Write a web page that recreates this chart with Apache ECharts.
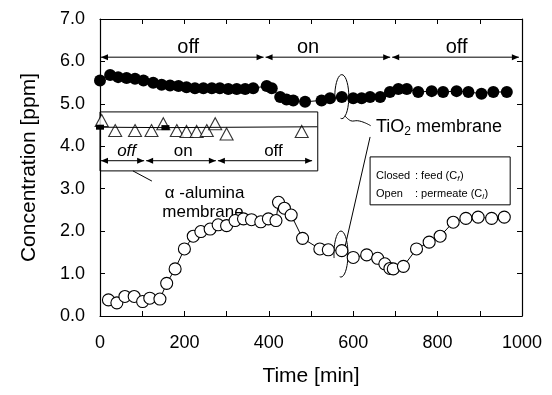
<!DOCTYPE html>
<html>
<head>
<meta charset="utf-8">
<script src="https://cdn.jsdelivr.net/npm/echarts@6/dist/echarts.min.js"></script>
<style>
  html, body { margin: 0; padding: 0; background: #fff; }
  #chart { width: 552px; height: 395px; }
</style>
</head>
<body>
<div id="chart"></div>
<script>
// TiO2 membrane, feed side (closed circles)
const timeTiO2Feed = [0, 24, 43, 63, 83, 103, 126, 146, 166, 186, 205, 225, 245, 265, 284, 304, 324, 344, 363, 395, 407, 427, 442, 458, 486, 525, 545, 573, 600, 620, 640, 664, 687, 707, 727, 754, 786, 813, 845, 873, 904, 932, 964]
const concTiO2Feed = [5.55, 5.68, 5.63, 5.61, 5.59, 5.55, 5.50, 5.45, 5.43, 5.42, 5.39, 5.37, 5.37, 5.37, 5.37, 5.35, 5.35, 5.35, 5.37, 5.42, 5.37, 5.16, 5.10, 5.08, 5.05, 5.08, 5.13, 5.16, 5.13, 5.13, 5.16, 5.16, 5.28, 5.35, 5.35, 5.28, 5.30, 5.28, 5.30, 5.28, 5.24, 5.28, 5.28]

// TiO2 membrane, permeate side (open circles)
const timeTiO2Perm = [20, 40, 59, 81, 101, 118, 142, 158, 178, 200, 221, 239, 261, 280, 300, 320, 340, 359, 381, 399, 417, 423, 437, 453, 480, 521, 541, 573, 600, 632, 658, 675, 687, 695, 719, 750, 780, 806, 837, 867, 896, 928, 958]
const concTiO2Perm = [0.38, 0.31, 0.46, 0.46, 0.34, 0.42, 0.40, 0.77, 1.11, 1.58, 1.88, 1.99, 2.05, 2.15, 2.13, 2.25, 2.29, 2.27, 2.22, 2.29, 2.25, 2.68, 2.54, 2.38, 1.83, 1.58, 1.56, 1.54, 1.38, 1.44, 1.36, 1.23, 1.12, 1.11, 1.17, 1.58, 1.74, 1.88, 2.21, 2.30, 2.33, 2.30, 2.33]

// alpha-alumina membrane (inset), feed (closed) and permeate (open triangles)
const timeAluFeed = [0, 155, 515]
const concAluFeed = [4.45, 4.44, 4.46]
const timeAluPerm = [4, 36, 83, 122, 150, 182, 205, 229, 253, 273, 300, 478]
const concAluPerm = [4.61, 4.37, 4.37, 4.37, 4.53, 4.37, 4.35, 4.35, 4.37, 4.53, 4.29, 4.35]

// axis ticks
const xTicks = [0, 200, 400, 600, 800, 1000]
const yTicks = [0, 1, 2, 3, 4, 5, 6, 7]

const FONT = '"Liberation Sans", Arial, Helvetica, sans-serif'
const zip = (xs, ys) => xs.map((x, i) => [x, ys[i]])

const chart = echarts.init(document.getElementById('chart'))

const frameAxis = {
  axisLine: { show: true, onZero: false, lineStyle: { color: '#000', width: 1.2 } },
  axisTick: { show: true, inside: true, length: 5, lineStyle: { color: '#000' } },
  splitLine: { show: false },
}

// the inset feed line runs on to the box edge without a marker
const aluFeedData = zip(timeAluFeed, concAluFeed).map((d, i) =>
  i === timeAluFeed.length - 1 ? { value: d, symbol: 'none' } : d
)

chart.setOption({
  animation: false,
  backgroundColor: '#fff',
  grid: { left: 100, right: 30, top: 19, bottom: 79 },
  xAxis: [
    {
      type: 'value', min: xTicks[0], max: xTicks[xTicks.length - 1], interval: 200,
      ...frameAxis,
      minorTick: { show: true, splitNumber: 2, length: 5, lineStyle: { color: '#000' } },
      axisLabel: { color: '#000', fontSize: 18, fontFamily: FONT, margin: 18, formatter: (v) => String(v) },
      name: 'Time [min]', nameLocation: 'middle', nameGap: 50,
      nameTextStyle: { color: '#000', fontSize: 21, fontFamily: FONT },
    },
    {
      type: 'value', position: 'top', min: 0, max: 1000, interval: 100,
      ...frameAxis, axisLabel: { show: false },
    },
  ],
  yAxis: [
    {
      type: 'value', min: yTicks[0], max: yTicks[yTicks.length - 1], interval: 1,
      ...frameAxis,
      axisLabel: { color: '#000', fontSize: 18, fontFamily: FONT, margin: 15, formatter: (v) => v.toFixed(1) },
      name: 'Concentration [ppm]', nameLocation: 'middle', nameGap: 60, nameRotate: 90,
      nameTextStyle: { color: '#000', fontSize: 21, fontFamily: FONT },
    },
    {
      type: 'value', position: 'right', min: 0, max: 7, interval: 1,
      ...frameAxis, axisLabel: { show: false },
    },
  ],
  series: [
    {
      name: 'alumina feed', type: 'line', data: aluFeedData,
      symbol: 'rect', symbolSize: [8, 5], showAllSymbol: true,
      itemStyle: { color: '#000' }, lineStyle: { color: '#000', width: 1 },
    },
    {
      name: 'alumina permeate', type: 'scatter', data: zip(timeAluPerm, concAluPerm),
      symbol: 'triangle', symbolSize: [13, 12],
      itemStyle: { color: '#fff', borderColor: '#000', borderWidth: 1.1 },
    },
    {
      name: 'TiO2 feed', type: 'line', data: zip(timeTiO2Feed, concTiO2Feed),
      symbol: 'circle', symbolSize: 12, showAllSymbol: true,
      itemStyle: { color: '#000' }, lineStyle: { color: '#000', width: 1 },
    },
    {
      name: 'TiO2 permeate', type: 'line', data: zip(timeTiO2Perm, concTiO2Perm),
      symbol: 'circle', symbolSize: 12, showAllSymbol: true,
      itemStyle: { color: '#fff', borderColor: '#000', borderWidth: 1.1 },
      lineStyle: { color: '#000', width: 1 },
    },
  ],
})

// ---- annotations, placed in data coordinates ----
const px = (t, v) => chart.convertToPixel({ gridIndex: 0 }, [t, v])
const ctx = document.createElement('canvas').getContext('2d')
const textWidth = (s, size, style) => {
  ctx.font = `${style || 'normal'} ${size}px ${FONT}`
  return ctx.measureText(s).width
}
const els = []
const stroke = { stroke: '#000', lineWidth: 1, fill: null }

function text(s, x, y, size, align, extra) {
  els.push({
    type: 'text', x, y, z: 1,
    style: Object.assign({ text: s, font: `${size}px ${FONT}`, fill: '#000', align: align || 'center', verticalAlign: 'middle' }, extra || {}),
  })
}

function arrowRow(segs, v) {
  segs.forEach(([t0, t1]) => {
    const [x0, y] = px(t0, v)
    const [x1] = px(t1, v)
    els.push({ type: 'line', shape: { x1: x0 + 1, y1: y, x2: x1 - 1, y2: y }, style: stroke })
    els.push({ type: 'polygon', shape: { points: [[x0 + 1, y], [x0 + 8, y - 3], [x0 + 8, y + 3]] }, style: { fill: '#000' } })
    els.push({ type: 'polygon', shape: { points: [[x1 - 1, y], [x1 - 8, y - 3], [x1 - 8, y + 3]] }, style: { fill: '#000' } })
  })
}

function ellipseArc(t, v, rx, ry) {
  const [cx, cy] = px(t, v)
  const pts = []
  for (let a = -190; a <= 100; a += 10) {
    const r = a * Math.PI / 180
    pts.push([cx + rx * Math.cos(r), cy + ry * Math.sin(r)])
  }
  els.push({ type: 'polyline', shape: { points: pts, smooth: 0.3 }, style: stroke })
}

// TiO2 on/off periods
arrowRow([[0, 390], [390, 690], [690, 995]], 6.10)
text('off', ...px(209, 6.34), 20)
text('on', ...px(493, 6.34), 20)
text('off', ...px(845, 6.34), 20)

// inset box for the alpha-alumina membrane
{
  const [x0, y0] = px(0, 4.81)
  const [x1, y1] = px(516, 3.42)
  els.push({ type: 'rect', shape: { x: x0, y: y0, width: x1 - x0, height: y1 - y0 }, style: stroke })
}
arrowRow([[0, 107], [107, 277], [277, 505]], 3.66)
text('off', ...px(63, 3.88), 17, 'center', { font: `italic 17px ${FONT}` })
text('on', ...px(197, 3.88), 17)
text('off', ...px(411, 3.88), 17)

// alpha-alumina label
{
  const [a, b] = [px(78, 3.42), px(123, 3.18)]
  els.push({ type: 'line', shape: { x1: a[0], y1: a[1], x2: b[0], y2: b[1] }, style: stroke })
}
text('α -alumina', ...px(248, 2.88), 17)
text('membrane', ...px(244, 2.45), 17)

// TiO2 membrane label with the two rings
ellipseArc(573, 5.17, 7, 22)
ellipseArc(571, 1.46, 7, 23)
{
  const [x0, y0] = px(580, 4.72)
  els.push({
    type: 'polyline',
    shape: { points: [[x0, y0], [x0 + 6, y0 + 5], [x0 + 13, y0 + 5], [x0 + 20, y0 + 7], [x0 + 26, y0 + 10]], smooth: 0.4 },
    style: stroke,
  })
  const [a, b] = [px(578, 1.52), px(640, 4.22)]
  els.push({ type: 'line', shape: { x1: a[0], y1: a[1], x2: b[0], y2: b[1] }, style: stroke })
  const [tx, ty] = px(654, 4.46)
  const w1 = textWidth('TiO', 18)
  text('TiO', tx, ty, 18, 'left')
  text('2', tx + w1, ty + 5, 12, 'left')
  text(' membrane', tx + w1 + textWidth('2', 12), ty, 18, 'left')
}

// legend box
{
  const [x0, y0] = px(640, 3.75)
  const [x1, y1] = px(972, 2.62)
  els.push({ type: 'rect', shape: { x: x0, y: y0, width: x1 - x0, height: y1 - y0 }, style: stroke })
  const rows = [['Closed', ': feed (C', 'f', 3.30], ['Open', ': permeate (C', 'l', 2.88]]
  rows.forEach(([label, rest, sub, v]) => {
    const [lx, ly] = px(654, v)
    const cx = lx + 39
    text(label, lx, ly, 11, 'left')
    text(rest, cx, ly, 11, 'left')
    const w = textWidth(rest, 11)
    text(sub, cx + w, ly + 3, 8, 'left', { font: `italic 8px ${FONT}` })
    text(')', cx + w + textWidth(sub, 8, 'italic') + 0.5, ly, 11, 'left')
  })
}

chart.setOption({ graphic: { elements: els } })
</script>
</body>
</html>
